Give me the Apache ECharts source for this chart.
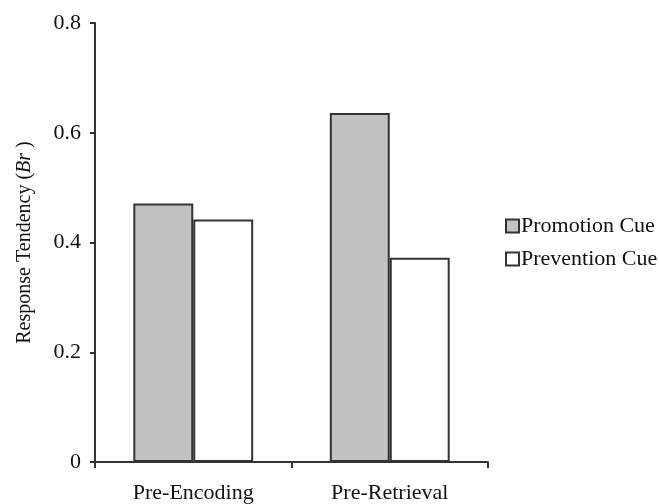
<!DOCTYPE html>
<html>
<head>
<meta charset="utf-8">
<script src="https://cdn.jsdelivr.net/npm/echarts@6/dist/echarts.min.js"></script>
<style>html,body{margin:0;padding:0;background:#fff}#c{width:659px;height:504px}</style>
</head>
<body>
<div id="c"></div>
<script>
const categories = ['Pre-Encoding', 'Pre-Retrieval'];
const seriesNames = ['Promotion Cue', 'Prevention Cue'];
const promotionValues = [0.471, 0.636];
const preventionValues = [0.442, 0.372];
const yTickLabels = ['0', '0.2', '0.4', '0.6', '0.8'];

const FONT = "'Liberation Serif', 'Times New Roman', serif";
const chart = echarts.init(document.getElementById('c'));
chart.setOption({
  animation: false,
  backgroundColor: '#fff',
  textStyle: { fontFamily: FONT, color: '#111' },
  grid: { left: 95, right: 171, top: 23, bottom: 42 },
  legend: {
    orient: 'vertical',
    left: 505, top: 215, padding: 0,
    itemWidth: 13, itemHeight: 13, itemGap: 11,
    icon: 'rect',
    textStyle: { fontFamily: FONT, fontSize: 22, color: '#111', padding: [0,0,0,-3] },
    data: seriesNames
  },
  xAxis: {
    type: 'category',
    data: categories,
    axisLine: { lineStyle: { color: '#333', width: 2 } },
    axisTick: { show: true, length: 6, lineStyle: { color: '#333', width: 2 } },
    axisLabel: { fontFamily: FONT, fontSize: 22, color: '#111', margin: 20 }
  },
  yAxis: {
    type: 'value',
    min: 0, max: 0.8, interval: 0.2,
    name: 'Response Tendency ({i|Br} )',
    nameLocation: 'middle',
    nameGap: 60,
    nameRotate: 90,
    nameTextStyle: {
      fontFamily: FONT, fontSize: 20, color: '#111',
      rich: { i: { fontFamily: FONT, fontSize: 20, fontStyle: 'italic', color: '#111' } }
    },
    splitLine: { show: false },
    axisLine: { show: true, lineStyle: { color: '#333', width: 2 } },
    axisTick: { show: true, length: 5, lineStyle: { color: '#333', width: 2 } },
    axisLabel: {
      fontFamily: FONT, fontSize: 22, color: '#111', margin: 14,
      formatter: (v) => yTickLabels[Math.round(v / 0.2)]
    }
  },
  series: [
    {
      name: seriesNames[0], type: 'bar', data: promotionValues,
      barWidth: '30.5%', barGap: '0%',
      itemStyle: { color: '#c2c2c2', borderColor: '#333', borderWidth: 2 }
    },
    {
      name: seriesNames[1], type: 'bar', data: preventionValues,
      barWidth: '30.5%', barGap: '0%',
      itemStyle: { color: '#ffffff', borderColor: '#333', borderWidth: 2 }
    }
  ]
});
</script>
</body>
</html>
